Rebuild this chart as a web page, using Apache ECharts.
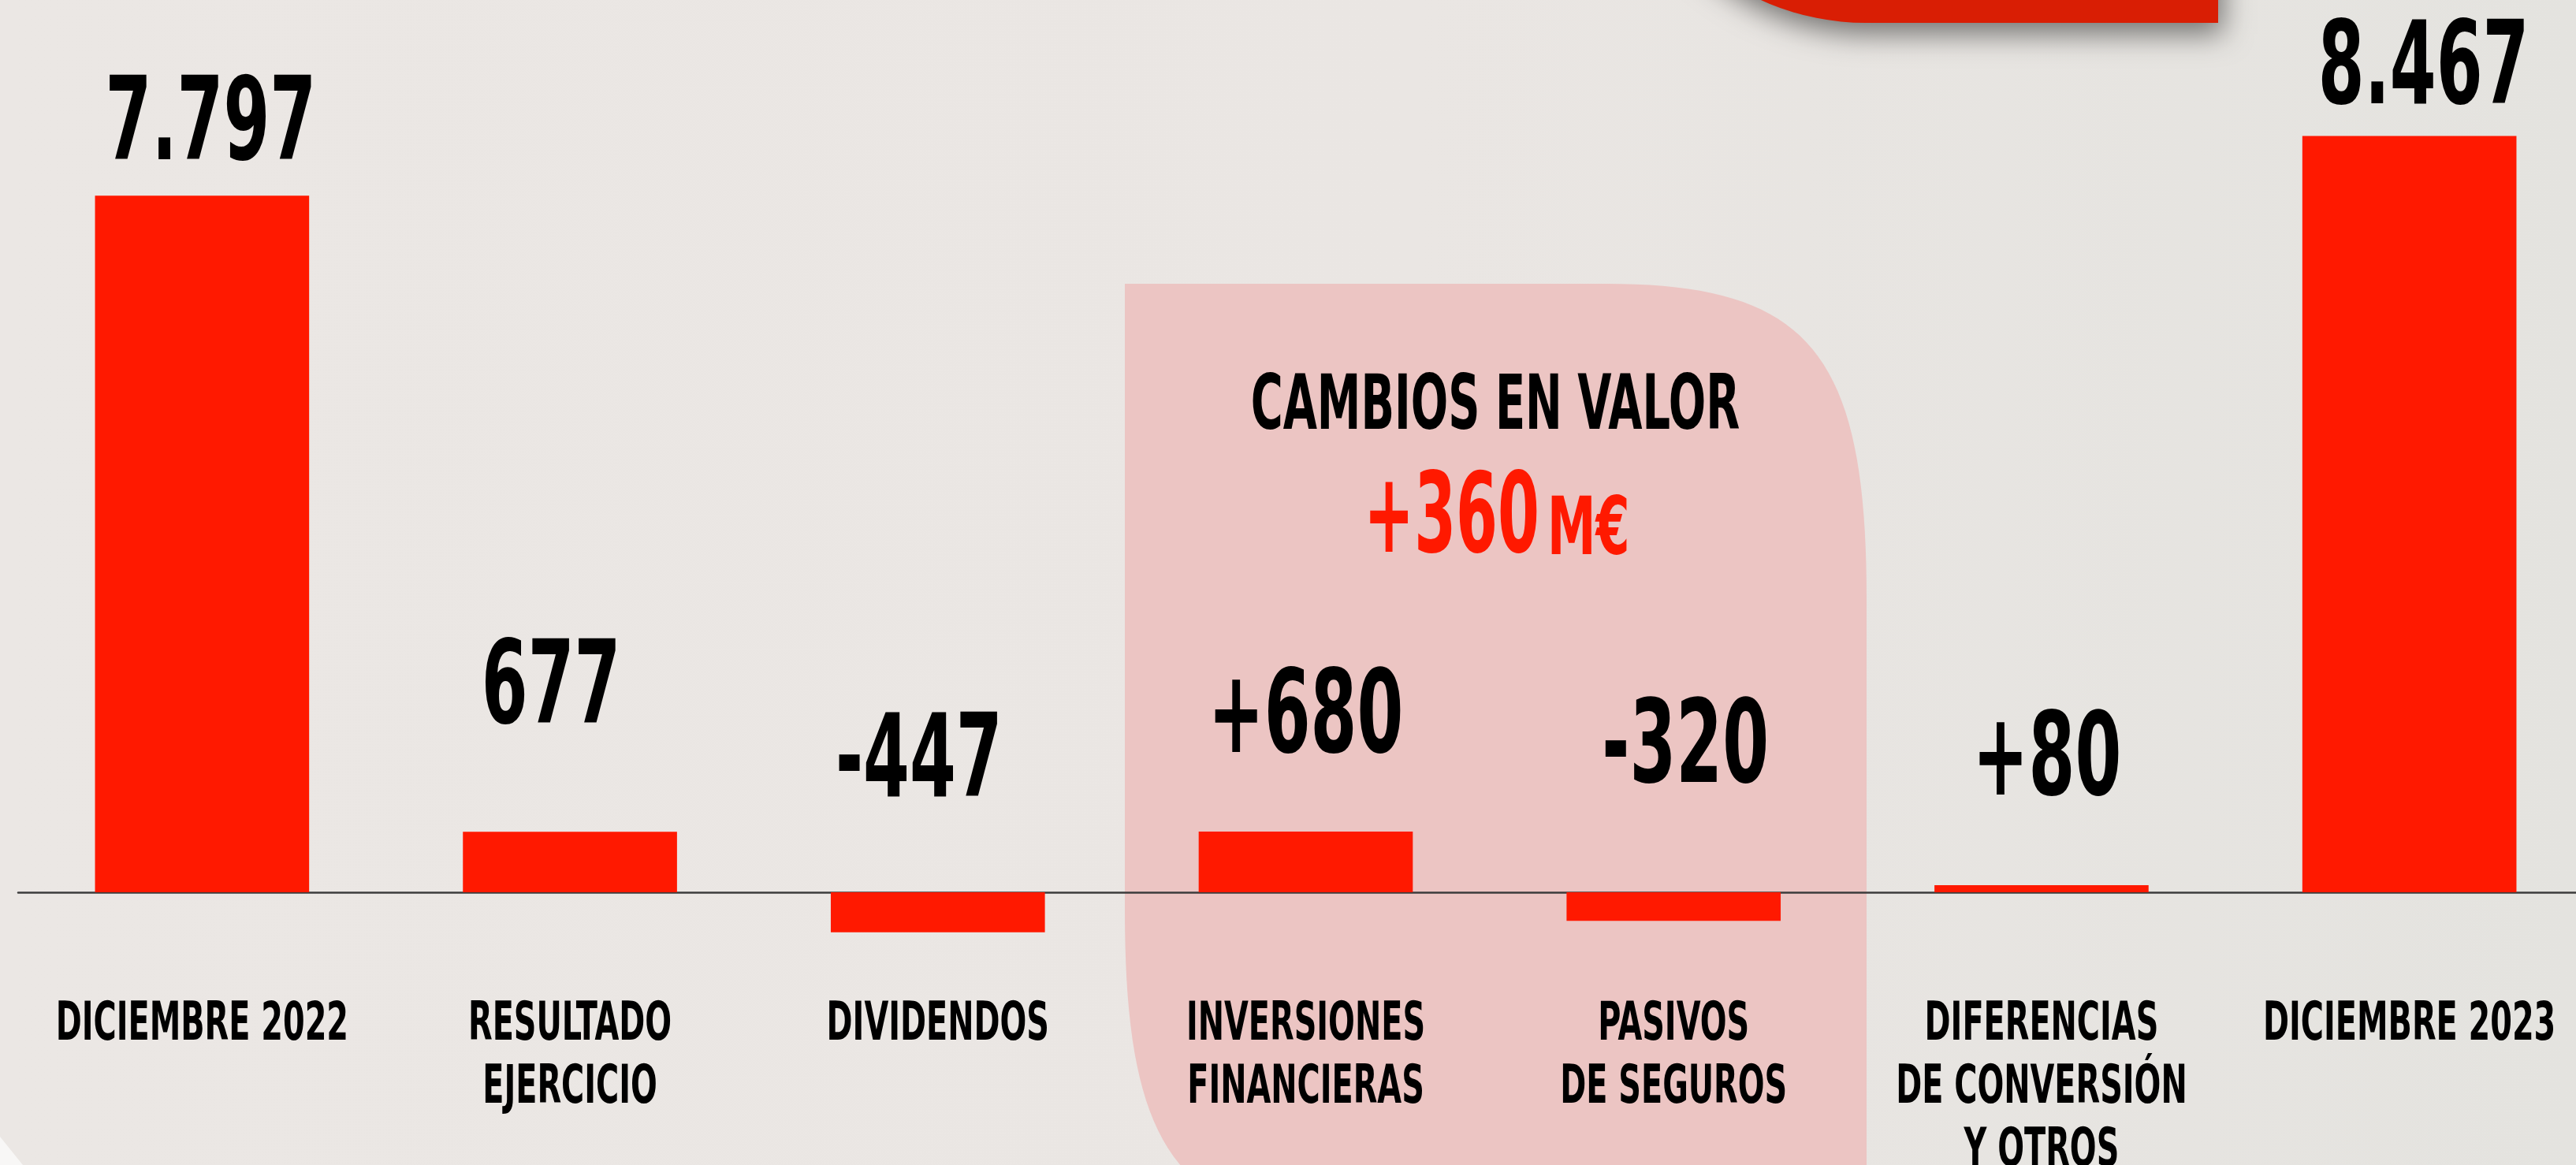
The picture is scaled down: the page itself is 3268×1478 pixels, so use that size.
<!DOCTYPE html>
<html>
<head>
<meta charset="utf-8">
<script src="https://cdn.jsdelivr.net/npm/echarts@6/dist/echarts.min.js"></script>
<style>
  html, body { margin: 0; padding: 0; width: 100%; height: 100%; overflow: hidden; background: #EAE6E3; }
  #chart { width: 3268px; height: 1478px; }
</style>
</head>
<body>
<div id="chart"></div>
<script>
// ---- data ----
const categories = [
  'DICIEMBRE 2022',
  'RESULTADO\nEJERCICIO',
  'DIVIDENDOS',
  'INVERSIONES\nFINANCIERAS',
  'PASIVOS\nDE SEGUROS',
  'DIFERENCIAS\nDE CONVERSIÓN\nY OTROS',
  'DICIEMBRE 2023'
];
const values = [7797, 677, -447, 680, -320, 80, 8467];
const valueLabels = ['7.797', '677', '-447', '+680', '-320', '+80', '8.467'];
const panelTitle = 'CAMBIOS EN VALOR';
const panelValue = '+360';
const panelUnit = 'M€';

// ---- style / layout ----
const FONT = "'DejaVu Sans Condensed', 'Liberation Sans Narrow', sans-serif";
const RED = '#FF1900';
const CAT_SCALE = 0.66;   // horizontal condensing of category labels
const VAL_SCALE = 0.64;   // horizontal condensing of value labels
// label placement (distance above bar top / zero line, horizontal nudge)
const labelDist = [85, 176, 160, 139, 178, 153, 80];
const labelNudge = [11, -24, -24, 0, 15, 7, 18];

// decorative panel outline (squircle-like corners) sampled from cubic curves
function cubic(p0, p1, p2, p3, n) {
  const pts = [];
  for (let i = 0; i <= n; i++) {
    const t = i / n, u = 1 - t;
    pts.push([
      u*u*u*p0[0] + 3*u*u*t*p1[0] + 3*u*t*t*p2[0] + t*t*t*p3[0],
      u*u*u*p0[1] + 3*u*u*t*p1[1] + 3*u*t*t*p2[1] + t*t*t*p3[1]
    ]);
  }
  return pts;
}
const panelPoints = [].concat(
  [[1427, 360]],
  cubic([2038, 360], [2295, 360], [2368, 448], [2368, 760], 40),
  [[2368, 1560]],
  cubic([1757, 1560], [1500, 1560], [1427, 1471], [1427, 1155], 40)
);

const chart = echarts.init(document.getElementById('chart'), null, { renderer: 'canvas' });

const seriesData = values.map((v, i) => ({
  value: v,
  label: {
    distance: labelDist[i],
    offset: [labelNudge[i], 0],
    formatter: () => valueLabels[i]
  }
}));

const bgGradient = {
  type: 'linear', x: 0, y: 0, x2: 1, y2: 0,
  colorStops: [
    { offset: 0, color: '#EBE7E4' },
    { offset: 0.55, color: '#EAE6E3' },
    { offset: 1, color: '#E4E3DF' }
  ]
};

const option = {
  animation: false,
  backgroundColor: 'transparent',
  // grid bottom sits on the zero line; negative bars hang below it (clip: false)
  grid: { left: 23, width: 3267, top: 112, bottom: 346, containLabel: false, outerBoundsMode: 'none' },
  xAxis: {
    type: 'category',
    data: categories,
    axisLine: { show: true, lineStyle: { color: '#3c3c3c', width: 2.5 } },
    axisTick: { show: false },
    axisLabel: {
      interval: 0,
      hideOverlap: false,
      margin: 130,
      color: '#000',
      fontFamily: FONT,
      fontWeight: 'bold',
      fontSize: 67,
      lineHeight: 80,
      align: 'center'
    },
    splitLine: { show: false }
  },
  yAxis: {
    type: 'value',
    min: 0,
    max: 9000,
    interval: 3000,
    show: false,
    splitLine: { show: false }
  },
  series: [{
    type: 'bar',
    data: seriesData,
    clip: false,
    barCategoryGap: '41.8%',
    itemStyle: { color: RED },
    z: 3,
    label: {
      show: true,
      position: 'top',
      verticalAlign: 'middle',
      color: '#000',
      fontFamily: FONT,
      fontWeight: 'bold',
      fontSize: 147
    }
  }],
  graphic: [
    {
      type: 'rect', z: -20, silent: true,
      shape: { x: 0, y: 0, width: 3268, height: 1478 },
      style: { fill: bgGradient }
    },
    {
      type: 'polygon', z: -15, silent: true,
      shape: { points: [[0, 1442], [29, 1478], [0, 1478]] },
      style: { fill: '#F8F7F6' }
    },
    {
      type: 'polygon', z: -10, silent: true,
      shape: { points: panelPoints },
      style: { fill: '#ECC5C3' }
    },
    {
      type: 'rect', z: 1, silent: true,
      shape: { x: 2047, y: -700, width: 767, height: 729, r: [0, 0, 0, 320] },
      style: {
        fill: '#D91E04',
        shadowBlur: 36,
        shadowColor: 'rgba(0,0,0,0.5)',
        shadowOffsetX: 6,
        shadowOffsetY: 14
      }
    },
    {
      type: 'text', z: 5, silent: true,
      x: 1897, y: 519, scaleX: 0.64,
      style: {
        text: panelTitle, fill: '#000',
        fontFamily: FONT, fontWeight: 'bold', fontSize: 97,
        align: 'center', verticalAlign: 'middle'
      }
    },
    {
      type: 'text', z: 5, silent: true,
      x: 1953, y: 663, scaleX: 0.6,
      style: {
        text: panelValue, fill: RED,
        fontFamily: FONT, fontWeight: 'bold', fontSize: 141,
        align: 'right', verticalAlign: 'middle'
      }
    },
    {
      type: 'text', z: 5, silent: true,
      x: 1963, y: 677, scaleX: 0.68,
      style: {
        text: panelUnit, fill: RED,
        fontFamily: FONT, fontWeight: 'bold', fontSize: 101,
        align: 'left', verticalAlign: 'middle'
      }
    }
  ]
};

chart.setOption(option);

// condense the library-drawn label texts horizontally (tall condensed typeface look)
const categoryLines = [];
categories.forEach(c => c.split('\n').forEach(l => categoryLines.push(l)));
function condenseTexts() {
  const zr = chart.getZr();
  const list = zr.storage.getDisplayList(true);
  list.forEach(el => {
    const t = el.style && el.style.text;
    if (t == null) return;
    if (categories.indexOf(t) >= 0 || categoryLines.indexOf(t) >= 0) {
      el.scaleX = CAT_SCALE; el.markRedraw();
    } else if (valueLabels.indexOf(t) >= 0) {
      el.scaleX = VAL_SCALE; el.markRedraw();
    }
  });
  zr.refreshImmediately();
}
condenseTexts();
</script>
</body>
</html>
